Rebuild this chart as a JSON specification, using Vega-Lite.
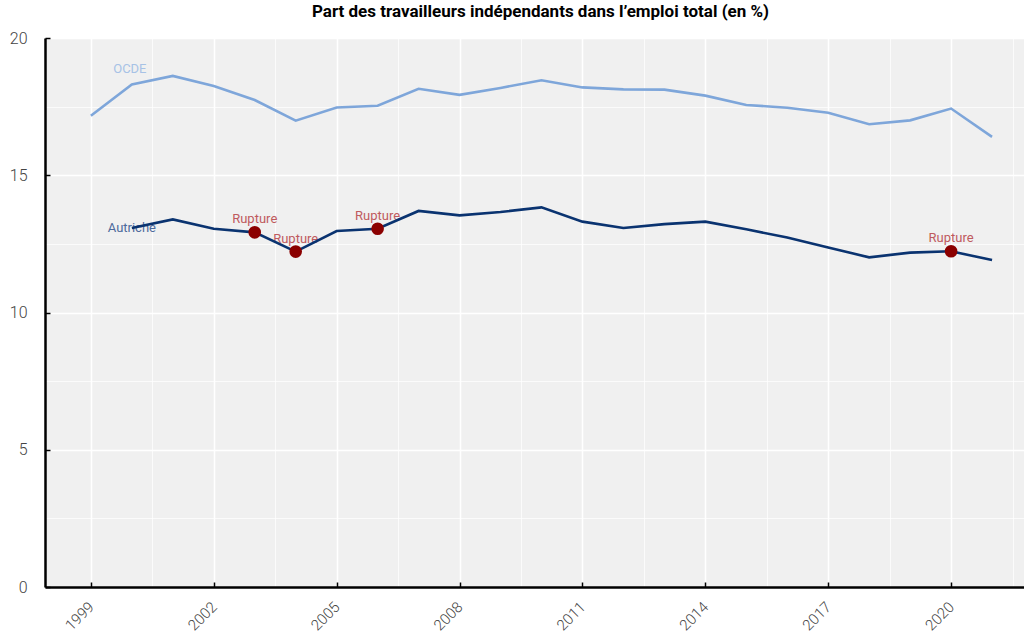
{
  "$schema": "https://vega.github.io/schema/vega-lite/v6.json",
  "autosize": "none",
  "padding": {"left": 45, "top": 38, "right": 0, "bottom": 50},
  "width": 979,
  "height": 549,
  "background": "white",
  "config": {
    "view": {"fill": "#f0f0f0", "stroke": null},
    "font": "Roboto"
  },
  "title": {
    "text": "Part des travailleurs indépendants dans l’emploi total (en %)",
    "font": "Roboto",
    "fontSize": 17,
    "fontWeight": "bold",
    "color": "#000000",
    "anchor": "middle",
    "offset": 9,
    "dx": 6
  },
  "data": {
    "values": [
      {"year": 1999, "series": "OCDE", "value": 17.17, "rupture": false},
      {"year": 2000, "series": "OCDE", "value": 18.31, "rupture": false},
      {"year": 2001, "series": "OCDE", "value": 18.62, "rupture": false},
      {"year": 2002, "series": "OCDE", "value": 18.25, "rupture": false},
      {"year": 2003, "series": "OCDE", "value": 17.74, "rupture": false},
      {"year": 2004, "series": "OCDE", "value": 16.99, "rupture": false},
      {"year": 2005, "series": "OCDE", "value": 17.47, "rupture": false},
      {"year": 2006, "series": "OCDE", "value": 17.53, "rupture": false},
      {"year": 2007, "series": "OCDE", "value": 18.15, "rupture": false},
      {"year": 2008, "series": "OCDE", "value": 17.93, "rupture": false},
      {"year": 2009, "series": "OCDE", "value": 18.18, "rupture": false},
      {"year": 2010, "series": "OCDE", "value": 18.46, "rupture": false},
      {"year": 2011, "series": "OCDE", "value": 18.2, "rupture": false},
      {"year": 2012, "series": "OCDE", "value": 18.13, "rupture": false},
      {"year": 2013, "series": "OCDE", "value": 18.12, "rupture": false},
      {"year": 2014, "series": "OCDE", "value": 17.9, "rupture": false},
      {"year": 2015, "series": "OCDE", "value": 17.56, "rupture": false},
      {"year": 2016, "series": "OCDE", "value": 17.46, "rupture": false},
      {"year": 2017, "series": "OCDE", "value": 17.28, "rupture": false},
      {"year": 2018, "series": "OCDE", "value": 16.86, "rupture": false},
      {"year": 2019, "series": "OCDE", "value": 17.0, "rupture": false},
      {"year": 2020, "series": "OCDE", "value": 17.43, "rupture": false},
      {"year": 2021, "series": "OCDE", "value": 16.4, "rupture": false},
      {"year": 2000, "series": "Autriche", "value": 13.08, "rupture": false},
      {"year": 2001, "series": "Autriche", "value": 13.39, "rupture": false},
      {"year": 2002, "series": "Autriche", "value": 13.05, "rupture": false},
      {"year": 2003, "series": "Autriche", "value": 12.92, "rupture": true},
      {"year": 2004, "series": "Autriche", "value": 12.22, "rupture": true},
      {"year": 2005, "series": "Autriche", "value": 12.97, "rupture": false},
      {"year": 2006, "series": "Autriche", "value": 13.05, "rupture": true},
      {"year": 2007, "series": "Autriche", "value": 13.7, "rupture": false},
      {"year": 2008, "series": "Autriche", "value": 13.54, "rupture": false},
      {"year": 2009, "series": "Autriche", "value": 13.66, "rupture": false},
      {"year": 2010, "series": "Autriche", "value": 13.83, "rupture": false},
      {"year": 2011, "series": "Autriche", "value": 13.31, "rupture": false},
      {"year": 2012, "series": "Autriche", "value": 13.08, "rupture": false},
      {"year": 2013, "series": "Autriche", "value": 13.22, "rupture": false},
      {"year": 2014, "series": "Autriche", "value": 13.31, "rupture": false},
      {"year": 2015, "series": "Autriche", "value": 13.03, "rupture": false},
      {"year": 2016, "series": "Autriche", "value": 12.73, "rupture": false},
      {"year": 2017, "series": "Autriche", "value": 12.37, "rupture": false},
      {"year": 2018, "series": "Autriche", "value": 12.01, "rupture": false},
      {"year": 2019, "series": "Autriche", "value": 12.18, "rupture": false},
      {"year": 2020, "series": "Autriche", "value": 12.23, "rupture": true},
      {"year": 2021, "series": "Autriche", "value": 11.91, "rupture": false}
    ]
  },
  "encoding": {
    "x": {
      "field": "year",
      "type": "quantitative",
      "scale": {"domain": [1997.88, 2021.78], "nice": false, "zero": false},
      "axis": {
        "title": null,
        "values": [1999, 2000.5, 2002, 2003.5, 2005, 2006.5, 2008, 2009.5, 2011, 2012.5, 2014, 2015.5, 2017, 2018.5, 2020, 2021.5],
        "labelExpr": "(datum.value - 1999) % 3 == 0 ? format(datum.value, 'd') : ''",
        "labelAngle": -45,
        "labelAlign": "right",
        "labelBaseline": "middle",
        "labelPadding": 22,
        "labelFontSize": 15,
        "labelFontWeight": 300,
        "labelColor": "#444444",
        "labelFont": "Roboto",
        "labelOverlap": false,
        "labelBound": false,
        "labelFlush": false,
        "domainColor": "#000000",
        "domainWidth": 2.5,
        "ticks": true,
        "tickSize": -5,
        "tickColor": "#000000",
        "tickWidth": 1.5,
        "tickOpacity": {"condition": {"test": "(datum.value - 1999) % 3 == 0", "value": 1}, "value": 0},
        "grid": true,
        "gridColor": "#ffffff",
        "gridWidth": {"condition": {"test": "(datum.value - 1999) % 3 == 0", "value": 1.6}, "value": 1.1},
        "gridOpacity": {"condition": {"test": "(datum.value - 1999) % 3 == 0", "value": 1}, "value": 0.75}
      }
    },
    "y": {
      "field": "value",
      "type": "quantitative",
      "scale": {"domain": [0, 20], "nice": false},
      "axis": {
        "title": null,
        "values": [0, 2.5, 5, 7.5, 10, 12.5, 15, 17.5, 20],
        "labelExpr": "datum.value % 5 == 0 ? format(datum.value, 'd') : ''",
        "labelPadding": 23,
        "labelFontSize": 16,
        "labelFontWeight": 300,
        "labelColor": "#444444",
        "labelFont": "Roboto",
        "labelBaseline": "middle",
        "domainColor": "#000000",
        "domainWidth": 2.5,
        "ticks": true,
        "tickSize": -5,
        "tickColor": "#000000",
        "tickWidth": 1.5,
        "tickOpacity": {"condition": {"test": "datum.value % 5 == 0", "value": 1}, "value": 0},
        "grid": true,
        "gridColor": "#ffffff",
        "gridWidth": {"condition": {"test": "datum.value % 5 == 0", "value": 1.6}, "value": 1.1},
        "gridOpacity": {"condition": {"test": "datum.value % 5 == 0", "value": 1}, "value": 0.75}
      }
    }
  },
  "layer": [
    {
      "transform": [{"filter": "datum.series == 'Autriche' && datum.year == 2000"}],
      "mark": {"type": "text", "fontSize": 13, "color": "#4d6a9c", "align": "center", "baseline": "middle", "dx": 0, "dy": 0, "font": "Roboto"},
      "encoding": {"text": {"field": "series"}}
    },
    {
      "transform": [{"filter": "datum.series == 'OCDE' && datum.year == 2000"}],
      "mark": {"type": "text", "fontSize": 13, "color": "#a7c2e6", "align": "center", "baseline": "middle", "dx": -2, "dy": -15, "font": "Roboto"},
      "encoding": {"text": {"field": "series"}}
    },
    {
      "transform": [{"filter": "datum.rupture"}],
      "mark": {"type": "text", "fontSize": 13, "color": "#bf5a5e", "align": "center", "baseline": "middle", "dy": -13, "font": "Roboto"},
      "encoding": {"text": {"value": "Rupture"}}
    },
    {
      "mark": {"type": "line", "strokeWidth": 2.6, "interpolate": "linear"},
      "encoding": {
        "color": {
          "field": "series",
          "type": "nominal",
          "scale": {"domain": ["OCDE", "Autriche"], "range": ["#7ea6da", "#0a3370"]},
          "legend": null
        },
        "detail": {"field": "series"}
      }
    },
    {
      "transform": [{"filter": "datum.rupture"}],
      "mark": {"type": "point", "filled": true, "size": 160, "color": "#8b0000", "opacity": 1, "shape": "circle"},
      "encoding": {}
    }
  ]
}
